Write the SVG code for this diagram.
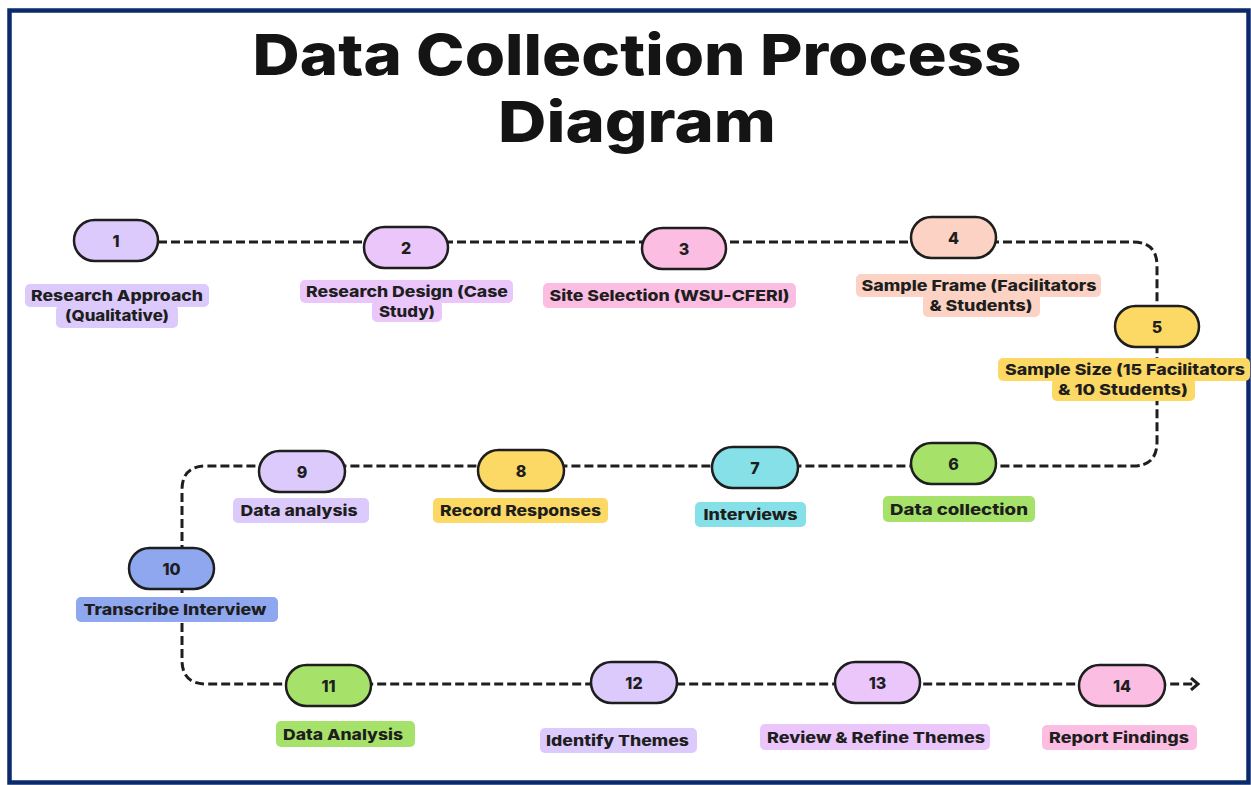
<svg xmlns="http://www.w3.org/2000/svg" width="1251" height="785" viewBox="0 0 1251 785">
<defs>
<style>
.node{stroke:#1e1e1e;stroke-width:2.5}
.num{font-family:Inter,"Liberation Sans",sans-serif;font-weight:800;font-size:16px;fill:#1e1e1e;text-anchor:middle}
.lbl{font-family:Inter,"Liberation Sans",sans-serif;font-weight:800;font-size:15px;fill:#1e1e1e;text-anchor:middle}
.title{font-family:Inter,"Liberation Sans",sans-serif;font-weight:800;font-size:57px;fill:#141414;text-anchor:middle}
.conn{fill:none;stroke:#1e1e1e;stroke-width:3;stroke-dasharray:9 4}
.lav{fill:#dccafc}.lil{fill:#eac6fb}.pnk{fill:#fbbde2}.sal{fill:#fbd2c3}.yel{fill:#fcd864}.grn{fill:#a6e26a}.cyn{fill:#85e1e7}.blu{fill:#8fa7ee}
</style>
<marker id="arr" markerWidth="12" markerHeight="14" refX="9" refY="7" orient="auto" markerUnits="userSpaceOnUse">
<path d="M2,1 L9,7 L2,13" fill="none" stroke="#1e1e1e" stroke-width="3"/>
</marker>
</defs>
<rect x="0" y="0" width="1251" height="785" fill="#ffffff"/>
<rect x="9.5" y="10.5" width="1239" height="772" fill="#ffffff" stroke="#0b2a6b" stroke-width="4.5"/>
<g id="title">
<text class="title" x="637" y="75" textLength="769" lengthAdjust="spacingAndGlyphs">Data Collection Process</text>
<text class="title" x="637" y="142" textLength="278" lengthAdjust="spacingAndGlyphs">Diagram</text>
</g>
<g id="connectors">
<path class="conn" d="M158,242 H1133 Q1157,242 1157,266 V442 Q1157,466 1133,466 H206 Q182,466 182,490 V660 Q182,684 206,684 H1198" marker-end="url(#arr)"/>
</g>
<g id="n1"><rect class="node lav" x="74" y="220" width="84" height="41" rx="20.5"/><text class="num" x="116" y="246.5">1</text>
<rect class="lav" x="25" y="284" width="184" height="23" rx="5"/><rect class="lav" x="56" y="305" width="122" height="23" rx="5"/>
<text class="lbl" x="117" y="300.5" textLength="172" lengthAdjust="spacingAndGlyphs">Research Approach</text>
<text class="lbl" x="117" y="321" textLength="104" lengthAdjust="spacingAndGlyphs">(Qualitative)</text></g>
<g id="n2"><rect class="node lil" x="364" y="227" width="84" height="41" rx="20.5"/><text class="num" x="406" y="253.5">2</text>
<rect class="lil" x="300" y="280" width="213" height="23" rx="5"/><rect class="lil" x="372" y="300" width="70" height="22" rx="5"/>
<text class="lbl" x="407" y="297" textLength="202" lengthAdjust="spacingAndGlyphs">Research Design (Case</text>
<text class="lbl" x="407" y="316.5" textLength="56" lengthAdjust="spacingAndGlyphs">Study)</text></g>
<g id="n3"><rect class="node pnk" x="642" y="228" width="84" height="41" rx="20.5"/><text class="num" x="684" y="254.5">3</text>
<rect class="pnk" x="543" y="283" width="253" height="25" rx="5"/>
<text class="lbl" x="669.5" y="300.5" textLength="240" lengthAdjust="spacingAndGlyphs">Site Selection (WSU-CFERI)</text></g>
<g id="n4"><rect class="node sal" x="911" y="217" width="85" height="41" rx="20.5"/><text class="num" x="953.5" y="243.5">4</text>
<rect class="sal" x="856" y="274" width="245" height="23" rx="5"/><rect class="sal" x="923" y="294" width="117" height="23" rx="5"/>
<text class="lbl" x="979" y="291" textLength="235" lengthAdjust="spacingAndGlyphs">Sample Frame (Facilitators</text>
<text class="lbl" x="981" y="310.5" textLength="103" lengthAdjust="spacingAndGlyphs">&amp; Students)</text></g>
<g id="n5"><rect class="node yel" x="1115" y="306" width="84" height="41" rx="20.5"/><text class="num" x="1157" y="332.5">5</text>
<rect class="yel" x="998" y="358" width="252" height="23" rx="5"/><rect class="yel" x="1052" y="378" width="143" height="23" rx="5"/>
<text class="lbl" x="1125" y="374.5" textLength="240" lengthAdjust="spacingAndGlyphs">Sample Size (15 Facilitators</text>
<text class="lbl" x="1123" y="394.5" textLength="130" lengthAdjust="spacingAndGlyphs">&amp; 10 Students)</text></g>
<g id="n6"><rect class="node grn" x="911" y="443" width="85" height="41" rx="20.5"/><text class="num" x="953.5" y="469.5">6</text>
<rect class="grn" x="883" y="496" width="152" height="26" rx="5"/>
<text class="lbl" x="959" y="514.5" textLength="138" lengthAdjust="spacingAndGlyphs">Data collection</text></g>
<g id="n7"><rect class="node cyn" x="712" y="447" width="86" height="41" rx="20.5"/><text class="num" x="755" y="473.5">7</text>
<rect class="cyn" x="695" y="502" width="111" height="25" rx="5"/>
<text class="lbl" x="750.5" y="520" textLength="94" lengthAdjust="spacingAndGlyphs">Interviews</text></g>
<g id="n8"><rect class="node yel" x="478" y="450" width="86" height="41" rx="20.5"/><text class="num" x="521" y="476.5">8</text>
<rect class="yel" x="433" y="498" width="175" height="25" rx="5"/>
<text class="lbl" x="520.5" y="516" textLength="161" lengthAdjust="spacingAndGlyphs">Record Responses</text></g>
<g id="n9"><rect class="node lav" x="259" y="451" width="86" height="41" rx="20.5"/><text class="num" x="302" y="477.5">9</text>
<rect class="lav" x="233" y="498" width="136" height="25" rx="5"/>
<text class="lbl" x="299" y="516" textLength="117" lengthAdjust="spacingAndGlyphs">Data analysis</text></g>
<g id="n10"><rect class="node blu" x="129" y="548" width="85" height="41" rx="20.5"/><text class="num" x="171.5" y="574.5">10</text>
<rect class="blu" x="76" y="597" width="202" height="25" rx="5"/>
<text class="lbl" x="175" y="615" textLength="183" lengthAdjust="spacingAndGlyphs">Transcribe Interview</text></g>
<g id="n11"><rect class="node grn" x="286" y="665" width="85" height="41" rx="20.5"/><text class="num" x="328.5" y="691.5">11</text>
<rect class="grn" x="276" y="721" width="139" height="26" rx="5"/>
<text class="lbl" x="343" y="739.5" textLength="120" lengthAdjust="spacingAndGlyphs">Data Analysis</text></g>
<g id="n12"><rect class="node lav" x="591" y="662" width="86" height="41" rx="20.5"/><text class="num" x="634" y="688.5">12</text>
<rect class="lav" x="540" y="728" width="157" height="25" rx="5"/>
<text class="lbl" x="617.5" y="746" textLength="143" lengthAdjust="spacingAndGlyphs">Identify Themes</text></g>
<g id="n13"><rect class="node lil" x="835" y="662" width="85" height="41" rx="20.5"/><text class="num" x="877.5" y="688.5">13</text>
<rect class="lil" x="760" y="724" width="230" height="26" rx="5"/>
<text class="lbl" x="876" y="742.5" textLength="218" lengthAdjust="spacingAndGlyphs">Review &amp; Refine Themes</text></g>
<g id="n14"><rect class="node pnk" x="1079" y="665" width="86" height="41" rx="20.5"/><text class="num" x="1122" y="691.5">14</text>
<rect class="pnk" x="1042" y="725" width="155" height="25" rx="5"/>
<text class="lbl" x="1119" y="743" textLength="140" lengthAdjust="spacingAndGlyphs">Report Findings</text></g>
</svg>
